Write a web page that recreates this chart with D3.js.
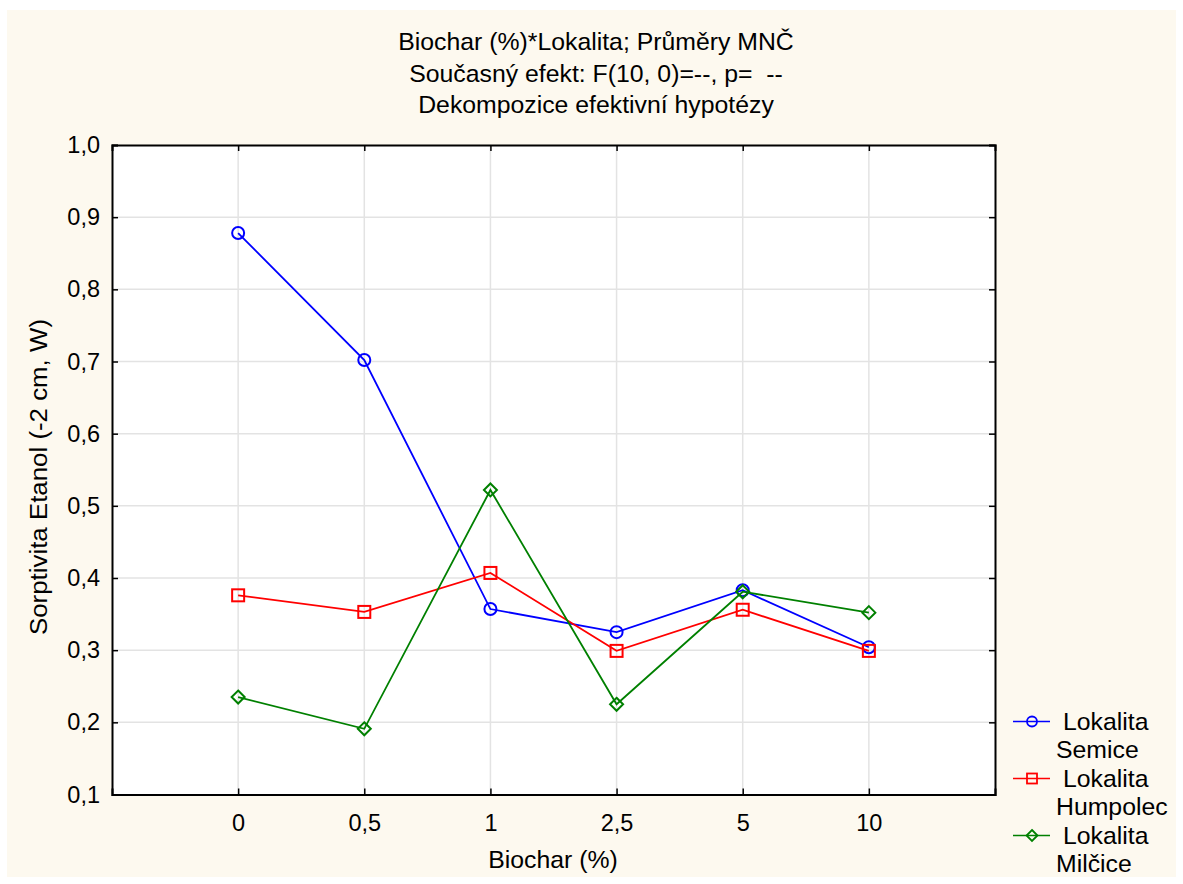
<!DOCTYPE html>
<html><head><meta charset="utf-8">
<script src="https://cdn.jsdelivr.net/npm/d3@7"></script>
<style>body{margin:0;background:#fff}svg{display:block}text{font-family:"Liberation Sans",Arial,sans-serif;fill:#000;white-space:pre}</style>
</head><body>
<svg id="c" width="1183" height="884"></svg>
<script>
const categories = ["0","0,5","1","2,5","5","10"];
const semice   = [0.878,0.702,0.357,0.325,0.383,0.304];
const humpolec = [0.376,0.353,0.407,0.299,0.356,0.299];
const milcice  = [0.235,0.191,0.522,0.225,0.381,0.352];
const yTicks = [0.1,0.2,0.3,0.4,0.5,0.6,0.7,0.8,0.9,1.0];
const titleLines = ["Biochar (%)*Lokalita; Průměry MNČ","Současný efekt: F(10, 0)=--, p=  --","Dekompozice efektivní hypotézy"];
const series = [
  {name:["Lokalita","Semice"], values:semice, color:"#0000ff", shape:"circle"},
  {name:["Lokalita","Humpolec"], values:humpolec, color:"#ff0000", shape:"square"},
  {name:["Lokalita","Milčice"], values:milcice, color:"#008000", shape:"diamond"}
];
const FS = 24.8, TFS = 23.5;

const svg = d3.select("#c");
svg.append("rect").attr("x",7).attr("y",10).attr("width",1169).attr("height",867).attr("fill","#fdf9ef");

const L=112,R=995,T=145,B=794.5;
const x = d3.scalePoint().domain(categories).range([L,R]).padding(1);
const y = d3.scaleLinear().domain([0.1,1.0]).range([B,T]);

svg.append("rect").attr("x",L).attr("y",T).attr("width",R-L).attr("height",B-T).attr("fill","#fff");

// grid
const g = svg.append("g");
g.selectAll(".hg").data(yTicks.slice(1,-1)).join("line")
 .attr("x1",L).attr("x2",R).attr("y1",d=>y(d)).attr("y2",d=>y(d)).attr("stroke","#e3e3e3").attr("stroke-width",1.5);
g.selectAll(".vg").data(categories).join("line")
 .attr("x1",d=>x(d)).attr("x2",d=>x(d)).attr("y1",T).attr("y2",B).attr("stroke","#e3e3e3").attr("stroke-width",1.5);

// axes with inward ticks
const fmt = d=>d3.format(".1f")(d).replace(".",",");
const yl = svg.append("g").attr("transform",`translate(${L},0)`).call(d3.axisLeft(y).tickValues(yTicks).tickSize(-6).tickPadding(12).tickFormat(fmt));
const yr = svg.append("g").attr("transform",`translate(${R},0)`).call(d3.axisRight(y).tickValues(yTicks).tickSize(-6).tickFormat(""));
const xb = svg.append("g").attr("transform",`translate(0,${B})`).call(d3.axisBottom(x).tickSize(-6).tickPadding(20));
const xt = svg.append("g").attr("transform",`translate(0,${T})`).call(d3.axisTop(x).tickSize(-6).tickFormat(""));
[yl,yr,xb,xt].forEach(a=>{
  a.selectAll("path").attr("stroke","#000").attr("stroke-width",2);
  a.selectAll("line").attr("stroke","#000").attr("stroke-width",1.5);
  a.selectAll("text").attr("font-size",TFS).attr("font-family","Liberation Sans, Arial, sans-serif").attr("fill","#000");
});

// lines and markers
const line = d3.line().x((d,i)=>x(categories[i])).y(d=>y(d));
function marker(sel, shape, color){
  if(shape==="circle") sel.append("circle").attr("r",6);
  else if(shape==="square") sel.append("rect").attr("x",-6).attr("y",-6).attr("width",12).attr("height",12);
  else sel.append("path").attr("d","M0,-6.5L6.5,0L0,6.5L-6.5,0Z");
  sel.selectAll("*").attr("fill","none").attr("stroke",color).attr("stroke-width",2);
}
series.forEach(s=>{
  svg.append("path").datum(s.values).attr("d",line).attr("fill","none").attr("stroke",s.color).attr("stroke-width",1.8);
  s.values.forEach((v,i)=>{
    const m = svg.append("g").attr("transform",`translate(${x(categories[i])},${y(v)})`);
    marker(m,s.shape,s.color);
  });
});

// titles
titleLines.forEach((t,i)=>svg.append("text").attr("x",596).attr("y",50+i*31.5).attr("text-anchor","middle").attr("font-size",FS).text(t));
svg.append("text").attr("x",553).attr("y",868).attr("text-anchor","middle").attr("font-size",FS).text("Biochar (%)");
svg.append("text").attr("transform","translate(47,477) rotate(-90)").attr("text-anchor","middle").attr("font-size",FS)
  .attr("textLength",316).attr("lengthAdjust","spacingAndGlyphs").text("Sorptivita Etanol (-2 cm, W)");

// legend
series.forEach((s,i)=>{
  const cy = 721.5 + i*57;
  svg.append("line").attr("x1",1013).attr("x2",1050).attr("y1",cy).attr("y2",cy).attr("stroke",s.color).attr("stroke-width",1.6);
  const m = svg.append("g").attr("transform",`translate(1032,${cy})`);
  if(s.shape==="circle") m.append("circle").attr("r",5);
  else if(s.shape==="square") m.append("rect").attr("x",-5).attr("y",-5).attr("width",10).attr("height",10);
  else m.append("path").attr("d","M0,-5.5L5.5,0L0,5.5L-5.5,0Z");
  m.selectAll("*").attr("fill","none").attr("stroke",s.color).attr("stroke-width",1.8);
  svg.append("text").attr("x",1063).attr("y",cy+8).attr("font-size",FS).text(s.name[0]);
  svg.append("text").attr("x",1056).attr("y",cy+36).attr("font-size",FS).text(s.name[1]);
});
</script>
</body></html>
